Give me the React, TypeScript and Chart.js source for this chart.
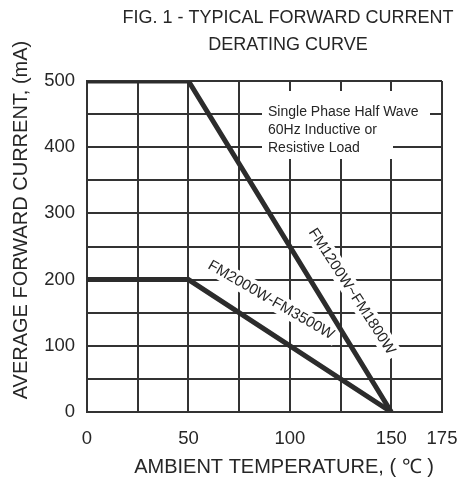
import React, { useEffect, useRef } from 'react';
import { Chart, registerables } from 'chart.js';

Chart.register(...registerables);

// ---- data ----
const seriesNames = ['FM1200W~FM1800W', 'FM2000W-FM3500W'];
const temperatureA = [0, 50, 150];
const currentA = [500, 500, 0];
const temperatureB = [0, 50, 150];
const currentB = [200, 200, 0];
const xTickLabels = [0, 50, 100, 150, 175];
const yTickLabels = [0, 100, 200, 300, 400, 500];
const titleLines = ['FIG. 1 - TYPICAL FORWARD CURRENT', 'DERATING CURVE'];
const noteLines = ['Single Phase Half Wave', '60Hz Inductive or', 'Resistive Load'];
const xTitle = 'AMBIENT TEMPERATURE, ( \u2103 )';
const yTitle = 'AVERAGE FORWARD CURRENT, (mA)';

// ---- styles ----
const FONT = '"Liberation Sans", Arial, Helvetica, sans-serif';
const TEXT = '#262626';
const GRID = '#333333';
const LINE = '#2c2c2c';

// label anchors (data units) and angles for the series labels
const seriesLabelPlacement = [
  { x: 130.5, y: 182, angle: 57 },
  { x: 90.7, y: 169, angle: 30 },
];

const decor = {
  id: 'decor',
  beforeDatasetsDraw(chart: any) {
    const { ctx } = chart;
    const xs = chart.scales.x;
    const ys = chart.scales.y;
    ctx.save();
    ctx.fillStyle = '#ffffff';
    ctx.fillRect(262, 91, 168, 30);
    ctx.fillRect(262, 121, 168, 17);
    ctx.fillRect(262, 138, 131, 21);
    ctx.fillStyle = TEXT;
    ctx.font = `14px ${FONT}`;
    ctx.textAlign = 'left';
    ctx.textBaseline = 'alphabetic';
    noteLines.forEach((t, i) => ctx.fillText(t, 268, 116 + i * 18));

    ctx.font = `15px ${FONT}`;
    ctx.textAlign = 'center';
    ctx.textBaseline = 'middle';
    seriesNames.forEach((name, i) => {
      const p = seriesLabelPlacement[i];
      const w = ctx.measureText(name).width;
      ctx.save();
      ctx.translate(xs.getPixelForValue(p.x), ys.getPixelForValue(p.y));
      ctx.rotate((p.angle * Math.PI) / 180);
      ctx.fillStyle = '#ffffff';
      ctx.fillRect(-w / 2 - 4, -10, w + 8, 19);
      ctx.fillStyle = TEXT;
      ctx.fillText(name, 0, 0);
      ctx.restore();
    });
    ctx.restore();
  },
  afterDraw(chart: any) {
    const { ctx } = chart;
    ctx.save();
    ctx.fillStyle = TEXT;
    ctx.textAlign = 'center';
    ctx.textBaseline = 'alphabetic';
    ctx.font = `18px ${FONT}`;
    ctx.fillText(titleLines[0], 288, 23);
    ctx.fillText(titleLines[1], 288, 50);
    ctx.font = `20px ${FONT}`;
    ctx.fillText(xTitle, 284, 473);
    ctx.save();
    ctx.translate(27, 220);
    ctx.rotate(-Math.PI / 2);
    ctx.fillText(yTitle, 0, 0);
    ctx.restore();
    ctx.restore();
  },
};

export default function App() {
  const ref = useRef<HTMLCanvasElement | null>(null);
  useEffect(() => {
    if (!ref.current) return;
    const chart = new Chart(ref.current, {
      type: 'line',
      data: {
        datasets: [
          {
            label: seriesNames[0],
            data: temperatureA.map((x, i) => ({ x, y: currentA[i] })),
            borderColor: LINE,
            borderWidth: 5,
            pointRadius: 0,
            tension: 0,
            fill: false,
          },
          {
            label: seriesNames[1],
            data: temperatureB.map((x, i) => ({ x, y: currentB[i] })),
            borderColor: LINE,
            borderWidth: 5,
            pointRadius: 0,
            tension: 0,
            fill: false,
          },
        ],
      },
      options: {
        animation: false,
        responsive: false,
        devicePixelRatio: 1,
        layout: { padding: { top: 81, right: 24, left: 0, bottom: 0 } },
        plugins: {
          legend: { display: false },
          title: { display: false },
          tooltip: { enabled: false },
        },
        scales: {
          x: {
            type: 'linear',
            min: 0,
            max: 175,
            afterFit: (s: any) => {
              s.height = 72;
              s.paddingLeft = 0;
              s.paddingRight = 0;
            },
            ticks: {
              stepSize: 25,
              padding: 16,
              color: TEXT,
              font: { family: FONT, size: 18.5 },
              maxRotation: 0,
              autoSkip: false,
              callback: (v: any) => (xTickLabels.includes(Number(v)) ? String(v) : ''),
            },
            grid: { color: GRID, lineWidth: 2, drawTicks: false },
            border: { display: true, color: GRID, width: 2 },
          },
          y: {
            type: 'linear',
            min: 0,
            max: 500,
            afterFit: (s: any) => {
              s.width = 87;
              s.paddingTop = 0;
              s.paddingBottom = 0;
            },
            ticks: {
              stepSize: 50,
              padding: 12,
              color: TEXT,
              font: { family: FONT, size: 18.5 },
              autoSkip: false,
              callback: (v: any) => (yTickLabels.includes(Number(v)) ? String(v) : ''),
            },
            grid: { color: GRID, lineWidth: 2, drawTicks: false },
            border: { display: true, color: GRID, width: 2 },
          },
        },
      },
      plugins: [decor],
    } as any);
    return () => chart.destroy();
  }, []);
  return (
    <div style={{ position: 'fixed', left: 0, top: 0, width: 466, height: 484, background: '#fff' }}>
      <canvas ref={ref} width={466} height={484} style={{ width: 466, height: 484, display: 'block' }} />
    </div>
  );
}
